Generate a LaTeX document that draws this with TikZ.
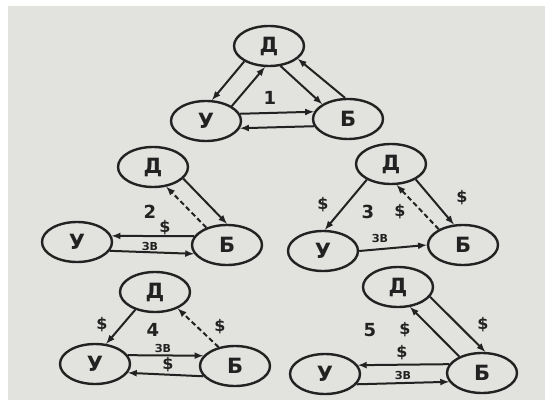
\documentclass[tikz,border=0pt]{standalone}
\usepackage{fontspec}
\setmainfont{DejaVu Sans}
\usepackage{tikz}
\usetikzlibrary{arrows,shapes.geometric}
\definecolor{paper}{RGB}{226,226,223}
\definecolor{ink}{RGB}{34,34,34}

\begin{document}
\begin{tikzpicture}[x=1pt, y=-1pt, every text node part/.style={align=center},
  party/.style={draw=ink, ellipse, line width=2.4pt, minimum width=70pt, minimum height=40pt, inner sep=0pt, text=ink, font=\fontsize{21}{24}\selectfont\bfseries},
  flow/.style={-latex, color=ink, line width=2pt},
  promise/.style={flow, dash pattern=on 5pt off 3pt},
  money/.style={text=ink, font=\fontsize{16}{18}\selectfont\bfseries},
  wage/.style={text=ink, font=\fontsize{11}{12}\selectfont\bfseries},
  case/.style={text=ink, font=\fontsize{18}{20}\selectfont\bfseries}]
 \fill[white] (0,0) rectangle (545,403);
 \fill[paper] (8,6) rectangle (545,400);
 \useasboundingbox (0,0) rectangle (545,403);

 % 1
 \node[party](d1) at (269,46) {Д};
 \node[party](u1) at (206,121) {У};
 \node[party](b1) at (348,119) {Б};
 \node[case](num1) at (270,98) {1};
 \path[flow] (d1.212) edge (u1.74)
             (u1.30) edge (d1.259)
             (d1.300) edge (b1.150)
             (b1.98) edge (d1.336)
             (u1.12) edge (b1.168)
             (b1.192) edge (u1.-12);

 % 2
 \node[party](d2) at (153,167) {Д};
 \node[party](u2) at (77,242) {У};
 \node[party](b2) at (227,245) {Б};
 \node[case](num2) at (150,212) {2};
 \node[money](cash2) at (165,228) {\$};
 \node[wage](wage2) at (150,246) {ЗВ};
 \path[flow] (d2.339) edge (b2.90)
             (b2.165) edge (u2.10)
             (u2.-15) edge (b2.195);
 \path[promise] (b2.140) edge (d2.304);

 % 3
 \node[party](d3) at (391,164) {Д};
 \node[party](u3) at (323,251) {У};
 \node[party](b3) at (463,245) {Б};
 \node[case](num3) at (368,212) {3};
 \node[money](cash3) at (400,212) {\$};
 \node[money](cash3u) at (323,205) {\$};
 \node[money](cash3b) at (462,198) {\$};
 \node[wage](wage3) at (380,238) {ЗВ};
 \path[flow] (d3.213) edge (u3.85)
             (d3.328) edge (b3.114)
             (u3.east) edge (b3.west);
 \path[promise] (b3.147) edge (d3.285);

 % 4
 \node[party](d4) at (155,292) {Д};
 \node[party](u4) at (95,364) {У};
 \node[party](b4) at (235,366) {Б};
 \node[case](num4) at (153,330) {4};
 \node[money](cash4u) at (102,325) {\$};
 \node[money](cash4b) at (220,327) {\$};
 \node[money](cash4) at (168,365) {\$};
 \node[wage](wage4) at (163,348) {ЗВ};
 \path[flow] (d4.222) edge (u4.61)
             (u4.15) edge (b4.162)
             (b4.198) edge (u4.-15);
 \path[promise] (b4.131) edge (d4.324);

 % 5
 \node[party](d5) at (398,287) {Д};
 \node[party](u5) at (325,374) {У};
 \node[party](b5) at (482,373) {Б};
 \node[case](num5) at (370,330) {5};
 \node[money](cash5) at (405,330) {\$};
 \node[money](cash5u) at (402,353) {\$};
 \node[money](cash5b) at (483,325) {\$};
 \node[wage](wage5) at (403,375) {ЗВ};
 \path[flow] (d5.343) edge (b5.81)
             (b5.144) edge (d5.301)
             (b5.165) edge (u5.15)
             (u5.-18) edge (b5.195);

\end{tikzpicture}
\end{document}
